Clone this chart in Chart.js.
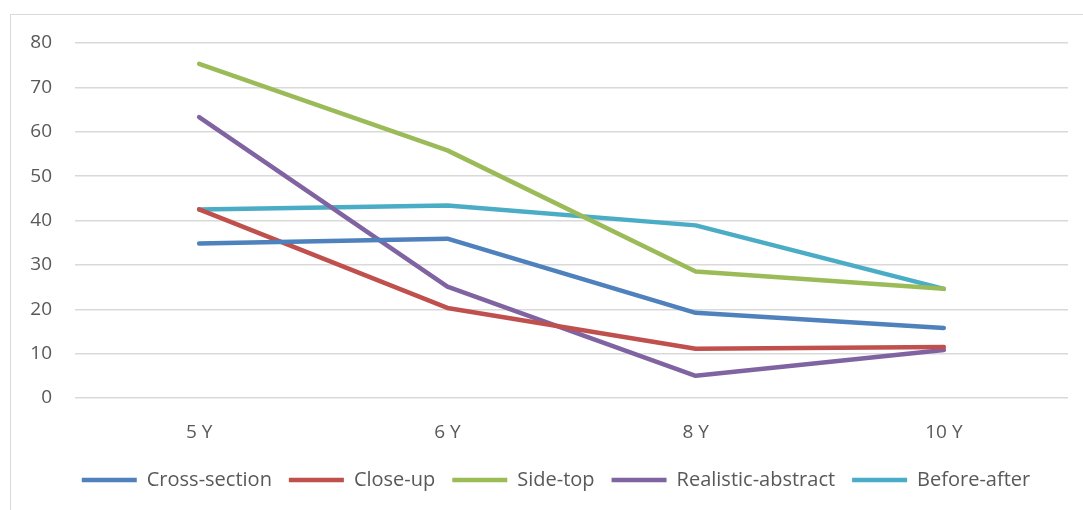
<!DOCTYPE html>
<html>
<head>
<meta charset="utf-8">
<script src="https://cdn.jsdelivr.net/npm/chart.js@4"></script>
<style>
  html, body { margin:0; padding:0; background:#fff; }
  #frame { position:absolute; left:10px; top:14px; width:1090px; height:520px; border:1px solid #d9d9d9; box-sizing:border-box; }
  #wrap { position:absolute; left:0; top:0; width:1083px; height:510px; }
</style>
</head>
<body>
<div id="frame"></div>
<div id="wrap"><canvas id="chart"></canvas></div>
<script>
/* ── data ── */
const CATEGORIES   = ['5 Y','6 Y','8 Y','10 Y'];
const CROSS_SECTION = [34.8, 35.9, 19.2, 15.8];
const CLOSE_UP      = [42.5, 20.3, 11.1, 11.5];
const SIDE_TOP      = [75.3, 55.8, 28.5, 24.6];
const REAL_ABSTRACT = [63.3, 25.1, 5.0, 10.8];
const BEFORE_AFTER  = [42.5, 43.4, 38.9, 24.6];
const Y_MIN = 0, Y_MAX = 80, Y_STEP = 10;

const FONT = "'Open Sans', 'Liberation Sans', sans-serif";
const TICK = '#595959';

function line(label, data, color) {
  return { label, data, borderColor:color, backgroundColor:color, borderWidth:4.5,
           pointRadius:0, pointHoverRadius:0, tension:0, fill:false,
           borderCapStyle:'round', borderJoinStyle:'round' };
}

// legend sits centred on the frame, not on the canvas
const shiftLegend = {
  id:'shiftLegend',
  afterLayout(chart){ if (chart.legend) chart.legend.left += 44; }
};

new Chart(document.getElementById('chart').getContext('2d'), {
  type:'line',
  data:{
    labels: CATEGORIES,
    datasets:[
      line('Cross-section',      CROSS_SECTION, '#4F81BD'),
      line('Close-up',           CLOSE_UP,      '#C0504D'),
      line('Side-top',           SIDE_TOP,      '#9BBB59'),
      line('Realistic-abstract', REAL_ABSTRACT, '#8064A2'),
      line('Before-after',       BEFORE_AFTER,  '#4BACC6'),
    ]
  },
  options:{
    responsive:true, maintainAspectRatio:false, animation:false,
    layout:{ padding:{ left:0, right:15, top:43, bottom:10 } },
    plugins:{
      tooltip:{ enabled:false },
      legend:{ position:'bottom',
        labels:{ color:TICK, font:{family:FONT,size:20}, usePointStyle:true, pointStyle:'line', pointStyleWidth:55, padding:17 } }
    },
    scales:{
      x:{ offset:true,
          grid:{ display:false }, border:{ display:false },
          ticks:{ color:TICK, font:{family:FONT,size:19}, padding:15 },
          afterFit(s){ s.height = 55; } },
      y:{ min:Y_MIN, max:Y_MAX,
          grid:{ color:'#d9d9d9', lineWidth:1.5, drawTicks:false }, border:{ display:false },
          ticks:{ stepSize:Y_STEP, color:TICK, font:{family:FONT,size:19}, padding:23 },
          afterFit(s){ s.width = 75; } }
    }
  },
  plugins:[shiftLegend]
});
</script>
</body>
</html>
